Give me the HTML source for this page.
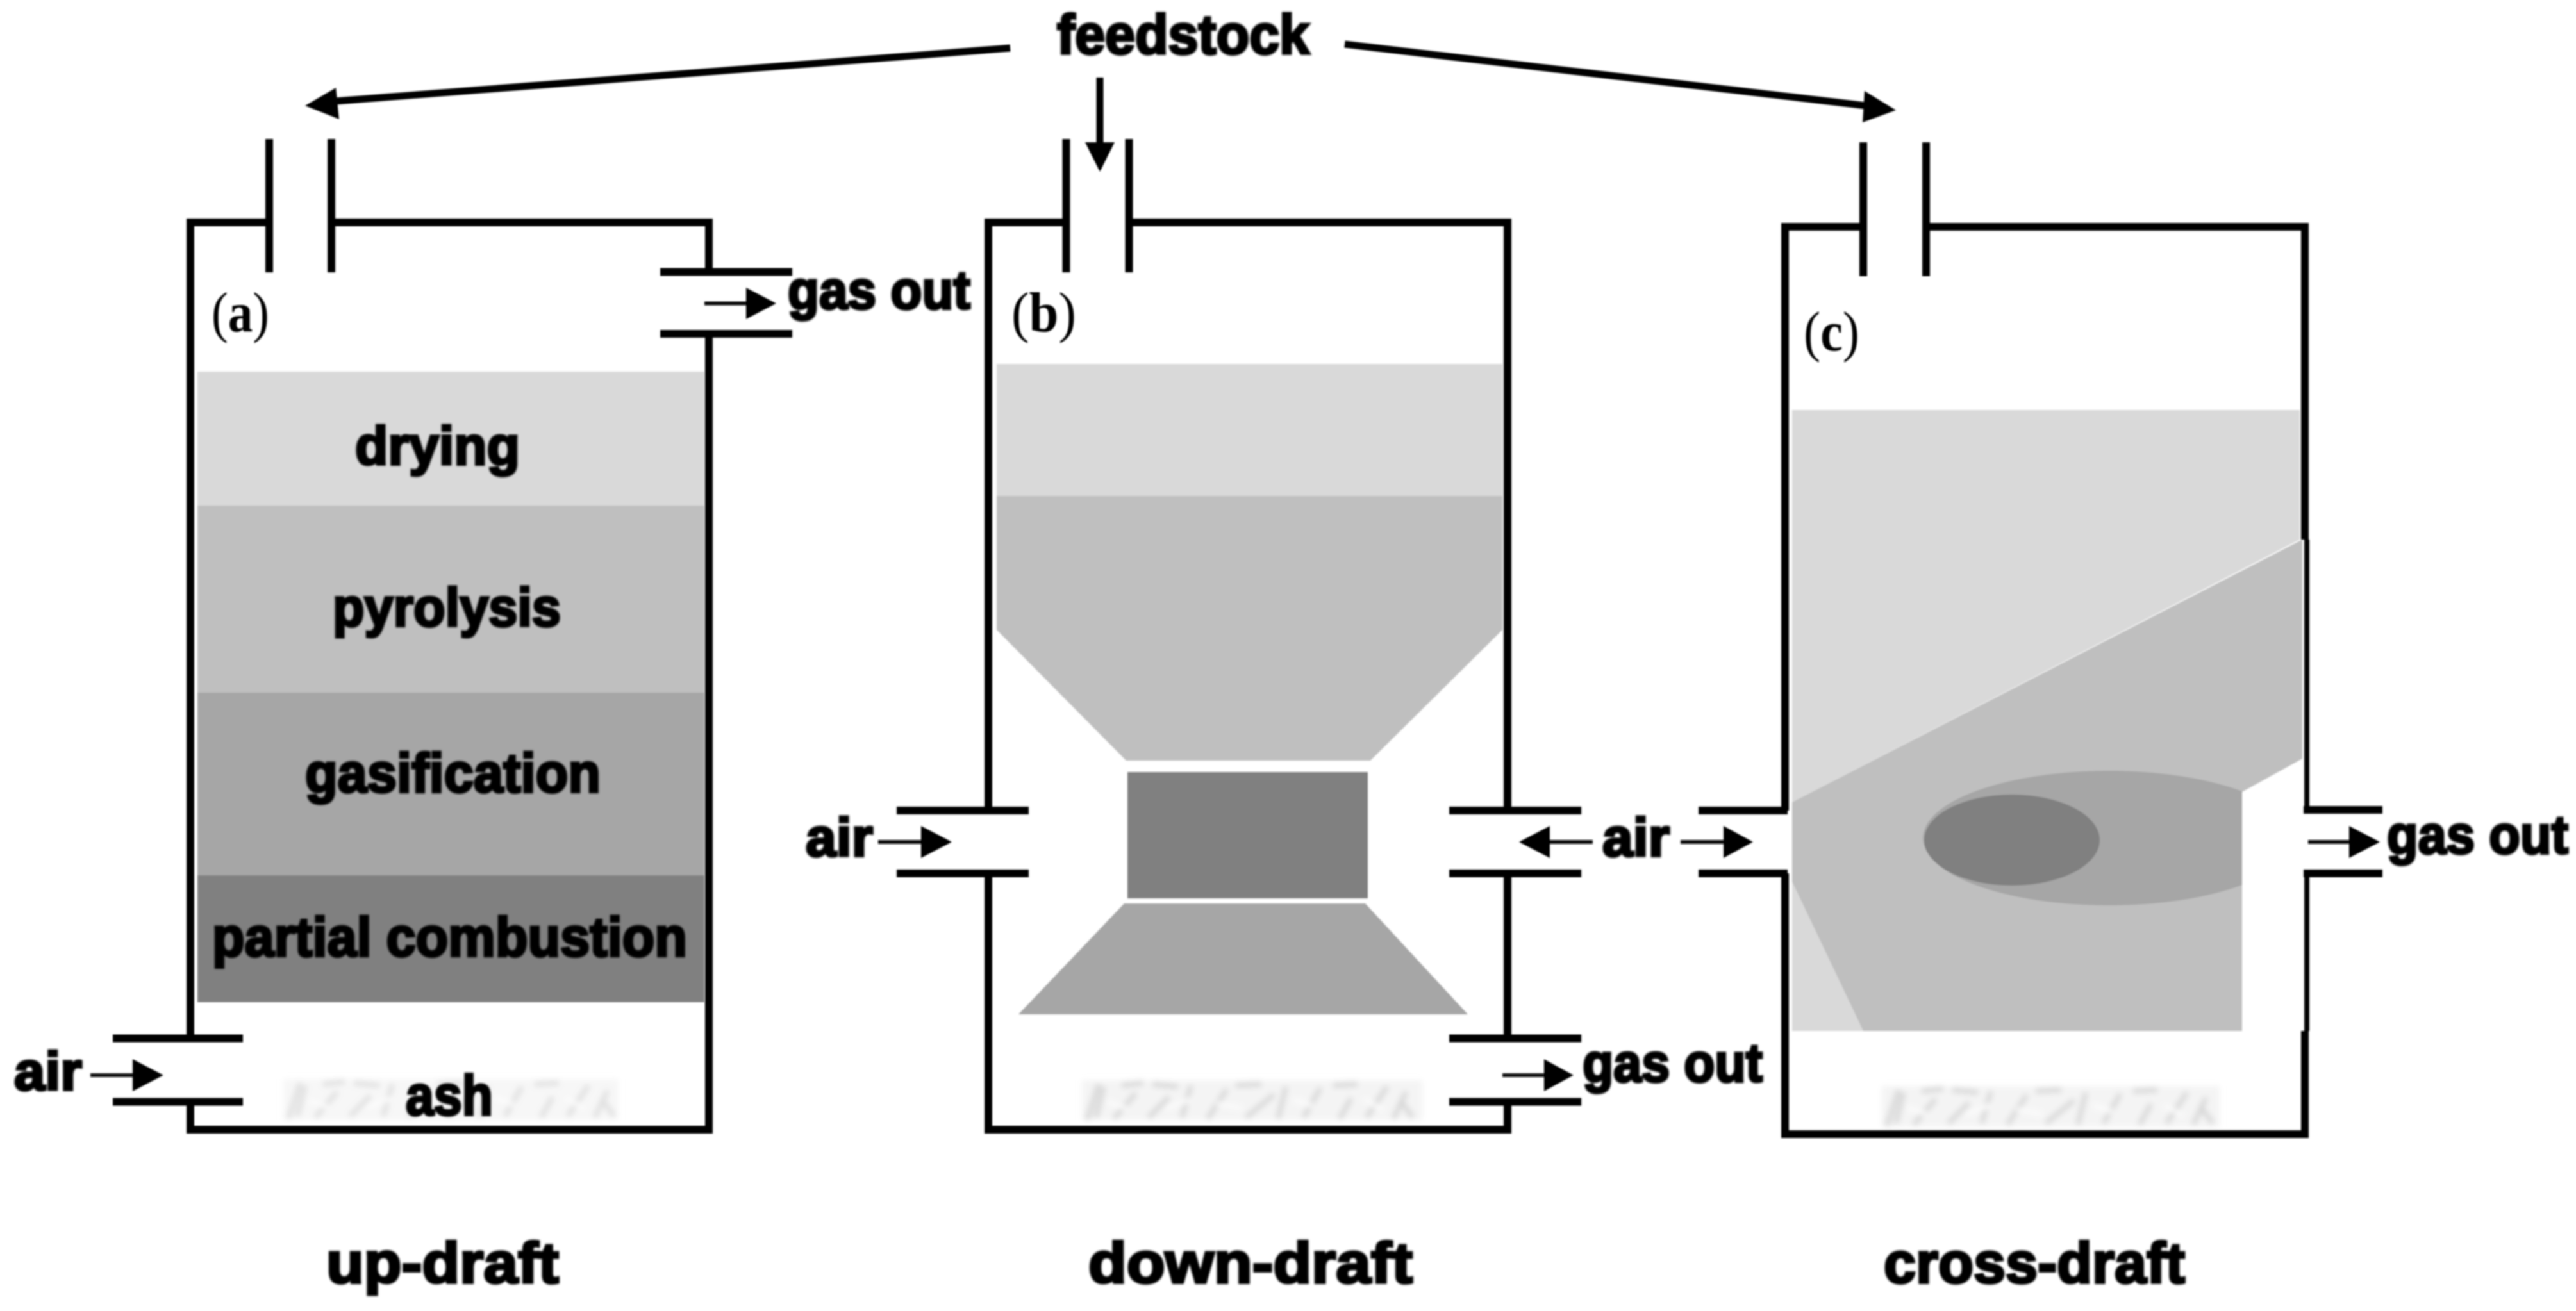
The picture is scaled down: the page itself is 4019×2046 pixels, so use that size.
<!DOCTYPE html>
<html lang="en">
<head>
<meta charset="utf-8">
<title>Up-draft, down-draft and cross-draft gasifiers</title>
<style>
html,body{margin:0;padding:0;background:#fff;width:4019px;height:2046px;overflow:hidden}
svg{display:block}
.t{font-family:"Liberation Sans",sans-serif;font-weight:700;fill:#000;stroke:#000;stroke-width:4px;paint-order:stroke}
.s{font-family:"Liberation Serif",serif;fill:#000}
.w{fill:none;stroke:#000;stroke-width:12;stroke-linecap:butt;stroke-linejoin:miter}
.a{stroke:#111;stroke-width:6;fill:none}
</style>
</head>
<body>
<svg xmlns="http://www.w3.org/2000/svg" width="4019" height="2046" viewBox="0 0 4019 2046">
<defs>
<filter id="b" x="-2%" y="-2%" width="104%" height="104%"><feGaussianBlur stdDeviation="1.3"/></filter>
<filter id="bt" x="-5%" y="-20%" width="110%" height="140%"><feGaussianBlur stdDeviation="1.6"/></filter>
<filter id="ba" x="-5%" y="-20%" width="110%" height="140%"><feGaussianBlur stdDeviation="4.5"/></filter>
<clipPath id="mid"><rect x="2990" y="1190" width="508" height="240"/></clipPath>
</defs>
<rect width="4019" height="2046" fill="#fff"/>

<g filter="url(#b)">
<!-- Reactor A fills -->
<rect x="308" y="580" width="791" height="209" fill="#d9d9d9"/>
<rect x="308" y="789" width="791" height="292" fill="#bfbfbf"/>
<rect x="308" y="1081" width="791" height="285" fill="#a6a6a6"/>
<rect x="308" y="1366" width="791" height="198" fill="#808080"/>

<!-- Reactor B fills -->
<rect x="1555" y="568" width="789" height="206" fill="#d9d9d9"/>
<polygon points="1555,774 2344,774 2344,983 2138,1187 1757,1187 1555,983" fill="#bfbfbf"/>
<rect x="1759" y="1205" width="375" height="197" fill="#808080"/>
<polygon points="1754,1410 2130,1410 2290,1583 1589,1583" fill="#a6a6a6"/>

<!-- Reactor C fills -->
<polygon points="2796,640 3588,640 3588,842 2796,1252" fill="#d9d9d9"/>
<polygon points="2796,1376 2907,1609 2796,1609" fill="#d9d9d9"/>
<polygon points="2796,1252 3592,842 3592,1184 3498,1236 3498,1609 2907,1609 2796,1376" fill="#bfbfbf"/>
<ellipse cx="3290" cy="1308" rx="290" ry="105" fill="#a6a6a6" clip-path="url(#mid)"/>
<ellipse cx="3139" cy="1311" rx="137" ry="71" fill="#808080"/>
</g>

<!-- Ash textures -->
<g filter="url(#ba)">
<g transform="translate(442,1684)">
<rect width="523" height="64" fill="#f7f7f7"/>
<path d="M8 62L26 6M34 10L22 58M62 8L96 4M50 60L84 20M110 6L150 10M104 58L136 26M170 8L156 58M196 60L226 14M240 8L280 6M256 58L300 22M318 10L306 60M346 58L372 12M392 8L430 6M402 60L420 28M444 58L476 10M486 60L506 18M516 58L496 30" stroke="#e0e0e0" stroke-width="8" fill="none"/>
<path d="M40 34L70 44M130 44L170 30M210 36L250 44M330 30L360 40M440 30L470 46" stroke="#fcfcfc" stroke-width="7" fill="none"/>
</g>
<g transform="translate(1688,1686)">
<rect width="531" height="62" fill="#f4f4f4"/>
<path d="M8 62L26 6M34 10L22 58M62 8L96 4M50 60L84 20M110 6L150 10M104 58L136 26M170 8L156 58M196 60L226 14M240 8L280 6M256 58L300 22M318 10L306 60M346 58L372 12M392 8L430 6M402 60L420 28M444 58L476 10M486 60L506 18M516 58L496 30" stroke="#d8d8d8" stroke-width="8" fill="none"/>
<path d="M40 34L70 44M130 44L170 30M210 36L250 44M330 30L360 40M440 30L470 46" stroke="#fcfcfc" stroke-width="7" fill="none"/>
</g>
<g transform="translate(2936,1695)">
<rect width="527" height="64" fill="#f4f4f4"/>
<path d="M8 62L26 6M34 10L22 58M62 8L96 4M50 60L84 20M110 6L150 10M104 58L136 26M170 8L156 58M196 60L226 14M240 8L280 6M256 58L300 22M318 10L306 60M346 58L372 12M392 8L430 6M402 60L420 28M444 58L476 10M486 60L506 18M516 58L496 30" stroke="#d8d8d8" stroke-width="8" fill="none"/>
<path d="M40 34L70 44M130 44L170 30M210 36L250 44M330 30L360 40M440 30L470 46" stroke="#fcfcfc" stroke-width="7" fill="none"/>
</g>
</g>

<g filter="url(#b)">
<!-- Reactor A walls -->
<path class="w" d="M420 347H297V1620M297 1720V1763H1106V521M1106 424V347H517"/>
<path class="w" d="M420 217V425M517 217V425"/>
<path class="w" d="M1030 424.5H1236M1030 521H1236"/>
<path class="w" d="M176 1620.5H379M176 1719.5H379"/>

<!-- Reactor B walls -->
<path class="w" d="M1663 347H1542V1265M1542 1363V1763H2352V1720M2352 1620V1363M2352 1265V347H1762"/>
<path class="w" d="M1663.5 217V425M1761.5 217V425"/>
<path class="w" d="M1399 1265H1605M1399 1363H1605"/>
<path class="w" d="M2261 1265H2467M2261 1363H2467"/>
<path class="w" d="M2261 1620.5H2467M2261 1719.5H2467"/>

<!-- Reactor C walls -->
<path class="w" d="M2907 354H2785V1265M2785 1363V1770H3596V1609"/>
<path class="w" d="M3596 842V354H3005"/>
<path d="M3599 842V1265M3599 1363V1609" stroke="#000" stroke-width="8" fill="none"/>
<path class="w" d="M2907 222V431M3005 222V431"/>
<path class="w" d="M2650 1265H2789M2650 1363H2789"/>
<path class="w" d="M3594 1264H3717M3594 1363H3717"/>

<!-- Feedstock arrows -->
<path d="M1576 75L510 159" stroke="#000" stroke-width="11" fill="none"/>
<polygon points="476,165 524,137 529,186" fill="#000"/>
<path d="M1716 121V230" stroke="#000" stroke-width="11" fill="none"/>
<polygon points="1716,268 1693,222 1739,222" fill="#000"/>
<path d="M2098 69L2920 166" stroke="#000" stroke-width="11" fill="none"/>
<polygon points="2958,172 2909,142 2906,191" fill="#000"/>

<!-- Small arrows -->
<path class="a" d="M1099 473.5H1170"/><polygon points="1211,473.5 1164,449 1164,498" fill="#000"/>
<path class="a" d="M141 1678H212"/><polygon points="255,1678 207,1653 207,1703" fill="#000"/>
<path class="a" d="M1370 1314H1442"/><polygon points="1485,1314 1437,1289 1437,1339" fill="#000"/>
<path class="a" d="M2485 1314H2412"/><polygon points="2370,1314 2418,1289 2418,1339" fill="#000"/>
<path class="a" d="M2622 1314H2695"/><polygon points="2735,1314 2689,1289 2689,1339" fill="#000"/>
<path class="a" d="M2344 1678H2415"/><polygon points="2455,1678 2409,1653 2409,1703" fill="#000"/>
<path class="a" d="M3601 1314H3671"/><polygon points="3713,1314 3665,1289 3665,1339" fill="#000"/>
</g>

<!-- Labels -->
<g filter="url(#bt)">
<text class="t" x="1649" y="84" font-size="87" textLength="394" lengthAdjust="spacingAndGlyphs">feedstock</text>
<text class="t" x="1229" y="482" font-size="84" textLength="285" lengthAdjust="spacingAndGlyphs">gas out</text>
<text class="t" x="554" y="725" font-size="84" textLength="257" lengthAdjust="spacingAndGlyphs">drying</text>
<text class="t" x="519" y="977" font-size="84" textLength="356" lengthAdjust="spacingAndGlyphs">pyrolysis</text>
<text class="t" x="476" y="1236" font-size="86" textLength="461" lengthAdjust="spacingAndGlyphs">gasification</text>
<text class="t" x="331" y="1492" font-size="86" textLength="741" lengthAdjust="spacingAndGlyphs">partial combustion</text>
<text class="t" x="633" y="1740" font-size="88" textLength="136" lengthAdjust="spacingAndGlyphs">ash</text>
<text class="t" x="22" y="1701" font-size="84" textLength="106" lengthAdjust="spacingAndGlyphs">air</text>
<text class="t" x="1257" y="1336" font-size="84" textLength="105" lengthAdjust="spacingAndGlyphs">air</text>
<text class="t" x="2500" y="1336" font-size="84" textLength="105" lengthAdjust="spacingAndGlyphs">air</text>
<text class="t" x="2469" y="1688" font-size="84" textLength="281" lengthAdjust="spacingAndGlyphs">gas out</text>
<text class="t" x="3724" y="1332" font-size="84" textLength="283" lengthAdjust="spacingAndGlyphs">gas out</text>
<text class="t" x="509" y="2002" font-size="90" textLength="363" lengthAdjust="spacingAndGlyphs">up-draft</text>
<text class="t" x="1698" y="2002" font-size="90" textLength="506" lengthAdjust="spacingAndGlyphs">down-draft</text>
<text class="t" x="2939" y="2002" font-size="90" textLength="470" lengthAdjust="spacingAndGlyphs">cross-draft</text>
</g>
<g filter="url(#b)">
<text class="s" x="330" y="517" font-size="88" textLength="90" lengthAdjust="spacingAndGlyphs">(<tspan font-weight="700">a</tspan>)</text>
<text class="s" x="1578" y="517" font-size="88" textLength="101" lengthAdjust="spacingAndGlyphs">(<tspan font-weight="700">b</tspan>)</text>
<text class="s" x="2814" y="547" font-size="88" textLength="87" lengthAdjust="spacingAndGlyphs">(<tspan font-weight="700">c</tspan>)</text>
</g>
</svg>
</body>
</html>
